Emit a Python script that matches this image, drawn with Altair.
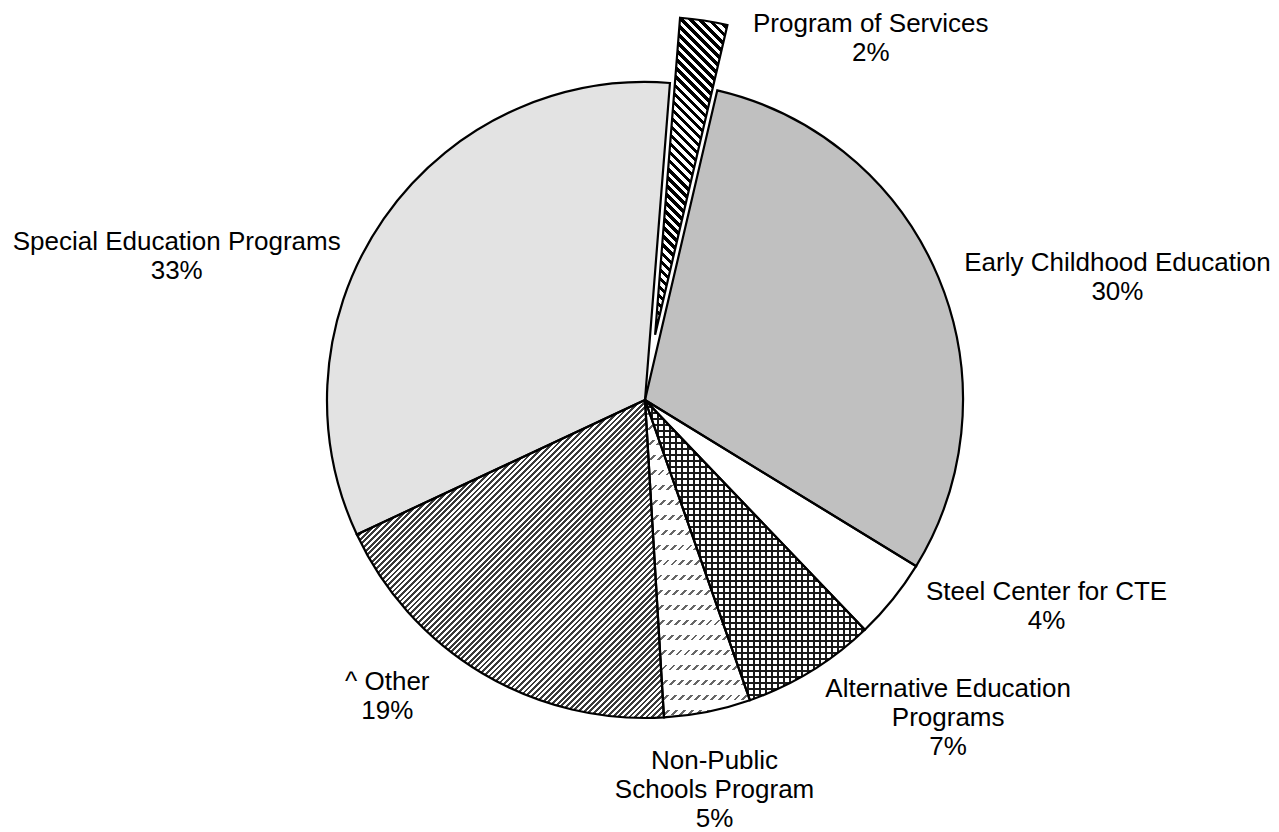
import math
import altair as alt
import pandas as pd

# ---------------- data ----------------
categories = [
    "Program of Services",
    "Early Childhood Education",
    "Steel Center for CTE",
    "Alternative Education Programs",
    "Non-Public Schools Program",
    "^ Other",
    "Special Education Programs",
]
shares = [2.4, 30.1, 4.1, 6.8, 4.4, 19.0, 33.2]
pct_text = ["2%", "30%", "4%", "7%", "5%", "19%", "33%"]
label_names = [
    "Program of Services",
    "Early Childhood Education",
    "Steel Center for CTE",
    "Alternative Education\nPrograms",
    "Non-Public\nSchools Program",
    "^ Other",
    "Special Education Programs",
]

# ---------------- layout / style ----------------
START_DEG = 4.5
R = 318
CX, CY = 637, 392
EXPLODE = 66
FONT = "Liberation Sans"
FONT_SIZE = 26
LINE_H = 29

df = pd.DataFrame({
    "cat": categories,
    "share": shares,
    "label": [n + "\n" + p for n, p in zip(label_names, pct_text)],
    "order": list(range(len(categories))),
})

a0 = math.radians(START_DEG)
theta_scale = alt.Scale(domain=[0, 100], range=[a0, a0 + 2 * math.pi])

base = alt.Chart(df).transform_window(
    cum="sum(share)", sort=[alt.SortField("order", order="ascending")], frame=[None, 0]
).transform_calculate(
    start="datum.cum - datum.share", mid="datum.cum - datum.share / 2"
)

# angles per slice (for explode direction and pattern geometry)
total = sum(shares)
angles = {}
acc = 0.0
for c, s in zip(categories, shares):
    d0 = START_DEG + acc / total * 360
    acc += s
    d1 = START_DEG + acc / total * 360
    angles[c] = (d0, d1)


def sector_bbox(d0, d1, r):
    pts = [(0.0, 0.0)]
    for d in (d0, d1):
        t = math.radians(d)
        pts.append((r * math.sin(t), -r * math.cos(t)))
    k = math.ceil(d0 / 90)
    while k * 90 <= d1:
        t = math.radians(k * 90)
        pts.append((r * math.sin(t), -r * math.cos(t)))
        k += 1
    xs = [p[0] for p in pts]
    ys = [p[1] for p in pts]
    return max(xs) - min(xs), max(ys) - min(ys)


def stripes(cat, normal_deg, period, width, color, bg="rgba(255,255,255,0)", phase=0.0):
    W, H = sector_bbox(*angles[cat], R)
    nx, ny = math.cos(math.radians(normal_deg)), math.sin(math.radians(normal_deg))
    if abs(nx) < 1e-9:
        nx = 0.0
    if abs(ny) < 1e-9:
        ny = 0.0
    corners = [(0, 0), (W, 0), (0, H), (W, H)]
    s = [nx * x + ny * y for x, y in corners]
    smin, smax = min(s), max(s)
    L = smax - smin
    cx, cy = corners[s.index(smin)]
    u1, v1 = cx / W, cy / H
    a = nx * W / L
    b = ny * H / L
    den = a * a + b * b
    du, dv = a / den, b / den
    stops = []
    k = 0
    while k * period < L + period:
        o0 = (k * period + phase) / L
        o1 = (k * period + phase + width) / L
        o0c, o1c = min(max(o0, 0), 1), min(max(o1, 0), 1)
        stops += [
            {"offset": o0c, "color": bg},
            {"offset": o0c, "color": color},
            {"offset": o1c, "color": color},
            {"offset": o1c, "color": bg},
        ]
        k += 1
    return {
        "gradient": "linear",
        "x1": u1, "y1": v1, "x2": u1 + du, "y2": v1 + dv,
        "stops": stops,
    }


def center_of(cat):
    if cat == "Program of Services":
        d0, d1 = angles[cat]
        m = math.radians((d0 + d1) / 2)
        return CX + EXPLODE * math.sin(m), CY - EXPLODE * math.cos(m)
    return CX, CY


def arc(cat, **kw):
    x, y = center_of(cat)
    return base.transform_filter(alt.datum.cat == cat).mark_arc(radius=R, **kw).encode(
        theta=alt.Theta("start:Q", scale=theta_scale),
        theta2=alt.Theta2("cum:Q"),
        x=alt.value(x),
        y=alt.value(y),
    )


base_fill = {
    "Program of Services": "#ffffff",
    "Early Childhood Education": "#c0c0c0",
    "Steel Center for CTE": "#ffffff",
    "Alternative Education Programs": "#ffffff",
    "Non-Public Schools Program": "#ffffff",
    "^ Other": "#ffffff",
    "Special Education Programs": "#e3e3e3",
}

layers = []
for c in categories:
    layers.append(arc(c, fill=base_fill[c], strokeWidth=0))

# patterns
layers.append(arc("Program of Services", fill=stripes("Program of Services", 135, 6.4, 3.2, "#000000"), strokeWidth=0))
layers.append(arc("^ Other", fill=stripes("^ Other", 45, 4.0, 2.0, "#3a3a3a"), strokeWidth=0))
layers.append(arc("Alternative Education Programs", fill=stripes("Alternative Education Programs", 90, 6.0, 2.0, "#1a1a1a"), strokeWidth=0))
layers.append(arc("Alternative Education Programs", fill=stripes("Alternative Education Programs", 0, 6.0, 2.0, "#1a1a1a"), strokeWidth=0))
layers.append(arc("Non-Public Schools Program", fill=stripes("Non-Public Schools Program", 45, 5.6, 2.0, "#666666"), strokeWidth=0))
layers.append(arc("Non-Public Schools Program", fill=stripes("Non-Public Schools Program", 90, 15.0, 10.0, "#ffffff"), strokeWidth=0))

# outlines
for c in categories:
    layers.append(arc(c, fillOpacity=0, stroke="#000000", strokeWidth=2.2, strokeJoin="miter"))

# labels: nudges from the slice's outer edge at its mid-angle
label_nudge = {
    "Program of Services": (177, -62),
    "Early Childhood Education": (179, -14),
    "Steel Center for CTE": (154, -8),
    "Alternative Education Programs": (137, 18),
    "Non-Public Schools Program": (7, 49),
    "^ Other": (-95, 9),
    "Special Education Programs": (-207, 23),
}
for c in categories:
    dx, dy = label_nudge[c]
    layers.append(
        base.transform_filter(alt.datum.cat == c).mark_text(
            radius=R, dx=dx, dy=dy, font=FONT, fontSize=FONT_SIZE, lineHeight=LINE_H,
            lineBreak="\n", align="center", baseline="middle", color="#000000",
        ).encode(
            text="label:N",
            theta=alt.Theta("mid:Q", scale=theta_scale),
            x=alt.value(CX),
            y=alt.value(CY),
        )
    )

chart = alt.layer(*layers).properties(
    width=1263, height=824, padding=0, autosize="none", background="#ffffff"
).configure_view(stroke=None)

chart.save("out.html", embed_options={"renderer": "svg", "actions": False})
